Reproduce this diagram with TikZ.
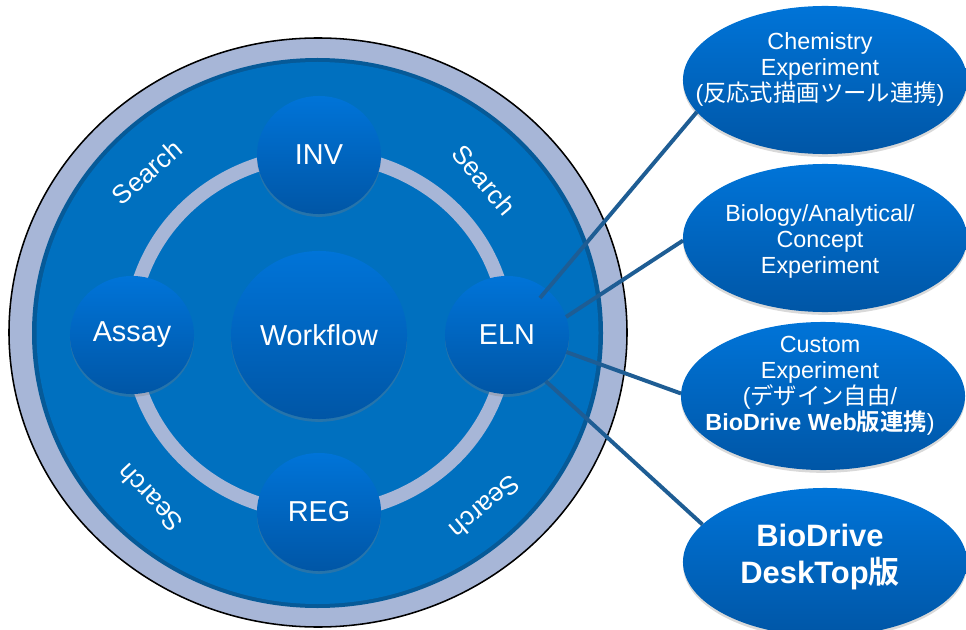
\documentclass[tikz,border=0pt]{standalone}
\usepackage{fontspec}
\setmainfont{Liberation Sans}
\newfontfamily\jpfont{Noto Sans CJK JP}[BoldFont={Noto Sans CJK JP Bold}]
\usetikzlibrary{shapes.geometric,shadows,calc}

\definecolor{bandgray}{RGB}{167,182,215}
\definecolor{ringblue}{RGB}{6,90,152}
\definecolor{discblue}{RGB}{0,112,191}
\definecolor{nodetop}{RGB}{0,116,216}
\definecolor{nodebottom}{RGB}{0,86,166}
\definecolor{linkblue}{RGB}{30,93,148}

\begin{document}
\begin{tikzpicture}[x=0.025cm,y=-0.025cm,
  hub/.style={ellipse,minimum width=3.1cm,minimum height=2.95cm,inner sep=0pt,outer sep=0pt,
    top color=nodetop,bottom color=nodebottom,text=white,
    font=\fontsize{20.5}{24}\selectfont,
    drop shadow={opacity=0.3,shadow xshift=0pt,shadow yshift=-2pt}},
  side/.style={hub,minimum width=7.1cm,minimum height=3.7cm},
  sidetext/.style={text=white,align=center,font=\fontsize{16.6}{18.5}\selectfont},
  searchtext/.style={text=white,font=\fontsize{18.5}{22}\selectfont},
  link/.style={draw=linkblue,line width=2.8pt}]
  \useasboundingbox (0,0) rectangle (966,630);

  % Outer disc
  \filldraw[fill=bandgray,draw=black,line width=1.1pt] (318,332.5) ellipse [x radius=309,y radius=294.5];
  \fill[ringblue] (317.5,333) ellipse [x radius=285.5,y radius=275];
  \fill[discblue] (317.5,333) ellipse [x radius=281,y radius=271];

  % Inner ring
  \draw[bandgray,line width=10pt] (319,334) ellipse [x radius=188,y radius=179];

  % Search labels
  \node[searchtext,rotate=41] (search1) at (147,172) {Search};
  \node[searchtext,rotate=-50] (search2) at (484,180) {Search};
  \node[searchtext,rotate=133] (search3) at (150,498) {Search};
  \node[searchtext,rotate=220] (search4) at (485,507) {Search};

  % Hub nodes
  \node[hub,minimum width=4.4cm,minimum height=4.2cm] (wf) at (319,335) {Workflow};
  \node[hub] (inv) at (319,155) {INV};
  \node[hub] (assay) at (132,335) {Assay};
  \node[hub] (reg) at (319,512) {REG};
  \node[hub] (eln) at (507,335) {ELN};

  % Experiment types
  \node[side] (chem) at (825,80) {};
  \node[side] (bio) at (825,238) {};
  \node[side] (custom) at (823,396) {};
  \node[side] (desk) at (825,562) {};

  \node[sidetext] (chemtxt) at (820,69) {Chemistry\\Experiment\\({\jpfont 反応式描画ツール連携})};
  \node[sidetext] (biotxt) at (820,241) {Biology/Analytical/\\Concept\\Experiment};
  \node[sidetext] (customtxt) at (820,386) {Custom\\Experiment\\({\jpfont デザイン自由}/\\{\bfseries BioDrive Web{\jpfont 版連携}})};
  \node[sidetext,font=\bfseries\fontsize{22}{27}\selectfont] (desktxt) at (820,557) {BioDrive\\DeskTop{\jpfont 版}};

  % Links
  \coordinate (e1) at ($(eln)+(33,-37)$);
  \draw[link] (e1) -- (chem.194);
  \draw[link] (eln.17) -- (bio.181);
  \draw[link] (eln.-16) -- (custom.179);
  \draw[link] (eln.-50) -- (desk.163);
\end{tikzpicture}
\end{document}
